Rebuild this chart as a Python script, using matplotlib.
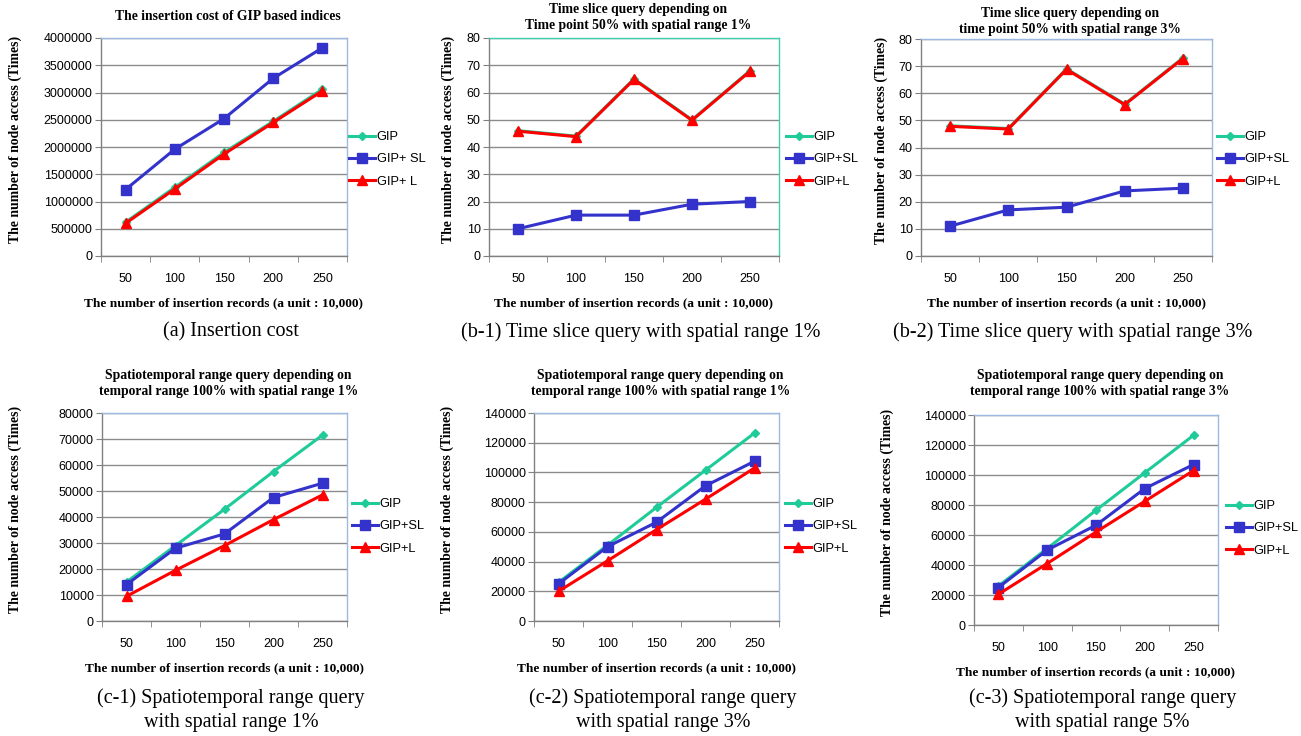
import matplotlib.pyplot as plt
from matplotlib.lines import Line2D
from matplotlib.ticker import FormatStrFormatter

W, H = 1301, 736

records = [50, 100, 150, 200, 250]
series_names = ['GIP', 'GIP+SL', 'GIP+L']

# (a) insertion cost
a_gip = [620000, 1260000, 1900000, 2470000, 3060000]
a_sl = [1220000, 1960000, 2520000, 3260000, 3820000]
a_l = [600000, 1230000, 1870000, 2450000, 3030000]

# (b-1) time slice, spatial range 1%
b1_gip = [46, 44, 65, 50, 68]
b1_sl = [10, 15, 15, 19, 20]
b1_l = [45.8, 43.8, 64.8, 49.8, 67.8]

# (b-2) time slice, spatial range 3%
b2_gip = [48, 47, 69, 56, 73]
b2_sl = [11, 17, 18, 24, 25]
b2_l = [47.8, 46.8, 68.8, 55.8, 72.8]

# (c-1) spatiotemporal range, spatial range 1%
c1_gip = [15000, 29000, 43000, 57500, 71500]
c1_sl = [14000, 28000, 33500, 47500, 53000]
c1_l = [9500, 19500, 29000, 39000, 48500]

# (c-2) spatiotemporal range, spatial range 3%
c2_gip = [26000, 51000, 76500, 101500, 126500]
c2_sl = [25000, 50000, 66500, 91000, 107500]
c2_l = [20000, 40500, 61500, 82000, 103000]

# (c-3) spatiotemporal range, spatial range 5%
c3_gip = [26000, 51000, 76500, 101500, 126500]
c3_sl = [25000, 50000, 66500, 91000, 107000]
c3_l = [20500, 41000, 62000, 82500, 103000]

colors = ['#1FCC99', '#3333CC', '#FF0000']
markers = ['D', 's', '^']
msizes = [4.5, 7.5, 7.5]

serif = 'Liberation Serif'
sans = 'Liberation Sans'

fig = plt.figure(figsize=(W / 100, H / 100), dpi=100)


def px_rect(x0, y0, x1, y1):
    return [x0 / W, 1 - y1 / H, (x1 - x0) / W, (y1 - y0) / H]


panels = [
    dict(rect=(101, 38, 347, 256), data=(a_gip, a_sl, a_l), ymax=4000000, step=500000,
         title='The insertion cost of GIP based indices', title_y=16,
         labels=['GIP', 'GIP+ SL', 'GIP+ L'], leg=(349, 131), ylab_x=15,
         caption='(a) Insertion cost', cap_y=332, border='#9DB9E0'),
    dict(rect=(489, 38, 779, 256), data=(b1_gip, b1_sl, b1_l), ymax=80, step=10,
         title='Time slice query depending on\nTime point 50% with spatial range 1%', title_y=17,
         labels=series_names, leg=(786, 131), ylab_x=448,
         caption='(b-1) Time slice query with spatial range 1%', cap_y=332, border='#40D0B0'),
    dict(rect=(921, 39, 1212, 256), data=(b2_gip, b2_sl, b2_l), ymax=80, step=10,
         title='Time slice query depending on\ntime point 50% with spatial range 3%', title_y=21,
         labels=series_names, leg=(1217, 131), ylab_x=881,
         caption='(b-2) Time slice query with spatial range 3%', cap_y=332, border='#9DB9E0'),
    dict(rect=(102, 413, 347, 621), data=(c1_gip, c1_sl, c1_l), ymax=80000, step=10000,
         title='Spatiotemporal range query depending on\ntemporal range 100% with spatial range 1%', title_y=384,
         labels=series_names, leg=(352, 498), ylab_x=15,
         caption='(c-1) Spatiotemporal range query\nwith spatial range 1%', cap_y=710, border='#9DB9E0'),
    dict(rect=(534, 413, 779, 621), data=(c2_gip, c2_sl, c2_l), ymax=140000, step=20000,
         title='Spatiotemporal range query depending on\ntemporal range 100% with spatial range 1%', title_y=384,
         labels=series_names, leg=(785, 498), ylab_x=447,
         caption='(c-2) Spatiotemporal range query\nwith spatial range 3%', cap_y=710, border='#9DB9E0'),
    dict(rect=(974, 415, 1218, 625), data=(c3_gip, c3_sl, c3_l), ymax=140000, step=20000,
         title='Spatiotemporal range query depending on\ntemporal range 100% with spatial range 3%', title_y=384,
         labels=series_names, leg=(1226, 500), ylab_x=887,
         caption='(c-3) Spatiotemporal range query\nwith spatial range 5%', cap_y=710, border='#9DB9E0'),
]

xs = list(range(len(records)))

for p in panels:
    x0, y0, x1, y1 = p['rect']
    ax = fig.add_axes(px_rect(x0, y0, x1, y1))
    for vals, c, m, ms in zip(p['data'], colors, markers, msizes):
        ax.plot(xs, vals, color=c, marker=m, markersize=ms, linewidth=2.2,
                markeredgecolor=c, clip_on=False, zorder=3)

    ax.set_xlim(-0.5, len(records) - 0.5)
    ax.set_ylim(0, p['ymax'])
    ax.set_yticks(range(0, p['ymax'] + 1, p['step']))
    ax.yaxis.set_major_formatter(FormatStrFormatter('%d'))
    ax.set_xticks(xs)
    ax.set_xticklabels([str(r) for r in records])
    ax.set_xticks([i - 0.5 for i in range(len(records) + 1)], minor=True)
    ax.tick_params(axis='x', which='major', length=0, pad=12)
    ax.tick_params(axis='x', which='minor', length=4, direction='out', color='#808080')
    ax.tick_params(axis='y', length=4, direction='out', color='#808080', pad=2)
    for lab in ax.get_xticklabels() + ax.get_yticklabels():
        lab.set_fontfamily(sans)
        lab.set_fontsize(9)

    ax.yaxis.grid(True, color='#8C8C8C', linewidth=1.0)
    ax.set_axisbelow(True)
    ax.spines['left'].set_color('#808080')
    ax.spines['bottom'].set_color('#808080')
    ax.spines['top'].set_color(p['border'])
    ax.spines['right'].set_color(p['border'])
    for s in ax.spines.values():
        s.set_linewidth(1.0)

    ax.set_xlabel('The number of insertion records (a unit : 10,000)',
                  fontfamily=serif, fontweight='bold', fontsize=9.6, labelpad=9)

    cx = (x0 + x1) / 2
    fig.text(cx / W + 0.003, 1 - p['title_y'] / H, p['title'], ha='center', va='center',
             fontfamily=serif, fontweight='bold', fontsize=9.8, linespacing=1.3)
    fig.text(p['ylab_x'] / W, 1 - (y0 + y1) / 2 / H + 0.01, 'The number of node access (Times)',
             rotation=90, ha='center', va='center', fontfamily=serif,
             fontweight='bold', fontsize=9.9)
    fig.text(cx / W + 0.005, 1 - p['cap_y'] / H, p['caption'], ha='center', va='center',
             fontfamily=serif, fontsize=14.5, linespacing=1.35)

    handles = [Line2D([], [], color=c, marker=m, markersize=ms, linewidth=2.2)
               for c, m, ms in zip(colors, markers, msizes)]
    lx, ly = p['leg']
    fig.legend(handles, p['labels'], loc='upper left',
               bbox_to_anchor=(lx / W, 1 - ly / H), frameon=False,
               prop={'family': sans, 'size': 9.3}, handlelength=2.0,
               handletextpad=0.15, labelspacing=0.8, borderpad=0, borderaxespad=0)

fig.savefig('out.png', dpi=100)
